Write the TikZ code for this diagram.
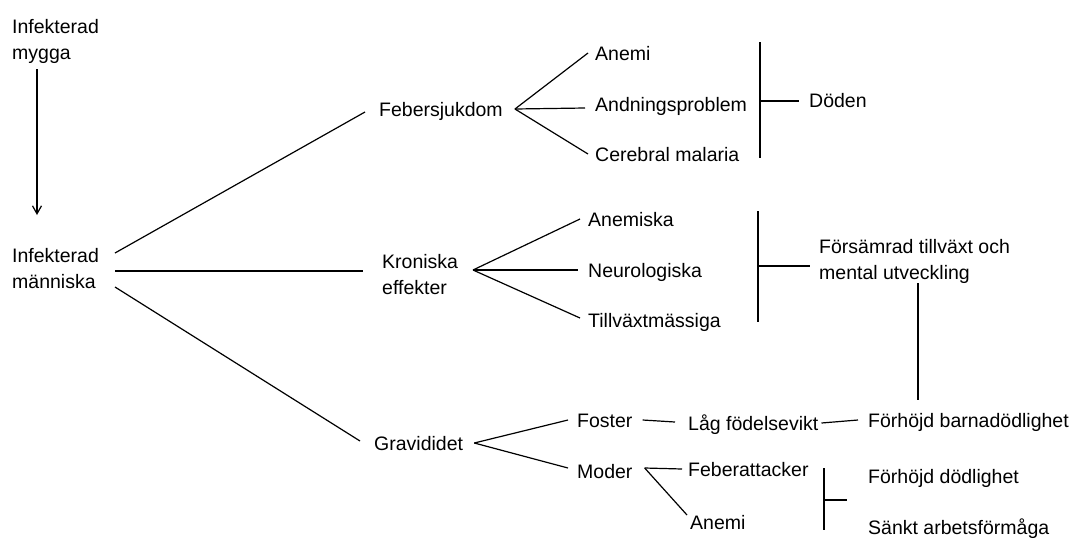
\documentclass[tikz,border=0pt]{standalone}
\usepackage{fontspec}
\setmainfont{Liberation Sans}
\usetikzlibrary{arrows.meta,calc}
\newcommand{\fsz}{\fontsize{19.5}{25.5}\selectfont}
\begin{document}
\begin{tikzpicture}[x=1pt,y=-1pt,
  txt/.style={font=\fsz, inner sep=0pt, text height=14pt, text depth=0pt, anchor=west},
  mtxt/.style={font=\fsz, inner sep=0pt, align=left, anchor=base west},
  ln/.style={line width=1.2pt, black},
  arr/.style={ln, -{Straight Barb[length=8pt,width=9pt,line width=1.2pt]}}]
\useasboundingbox (0,0) rectangle (1077,539);
\fill[white] (0,0) rectangle (1077,539);
% texts (multi-line nodes anchored at the baseline of their last line)
\node[mtxt] (myg) at (12,59) {Infekterad\\mygga};
\node[mtxt] (inf) at (12,288) {Infekterad\\människa};
\node[txt] (feber) at (379,109) {Febersjukdom};
\node[txt] (anemiA) at (595,53) {Anemi};
\node[txt] (andn) at (595,104) {Andningsproblem};
\node[txt] (cereb) at (595,154) {Cerebral malaria};
\node[txt] (doden) at (809,100) {Döden};
\node[mtxt] (kron) at (382,294) {Kroniska\\effekter};
\node[txt] (anemiska) at (588,219) {Anemiska};
\node[txt] (neuro) at (588,270) {Neurologiska};
\node[txt] (tillv) at (588,320) {Tillväxtmässiga};
\node[mtxt] (fors) at (819,279) {Försämrad tillväxt och\\mental utveckling};
\node[txt] (grav) at (374,443) {Gravididet};
\node[txt] (foster) at (577,420) {Foster};
\node[txt] (moder) at (577,471) {Moder};
\node[txt] (lag) at (688,423) {Låg födelsevikt};
\node[txt] (fbarn) at (868,420) {Förhöjd barnadödlighet};
\node[txt] (febatt) at (688,469) {Feberattacker};
\node[txt] (anemiB) at (690,522) {Anemi};
\node[txt] (fdod) at (868,476) {Förhöjd dödlighet};
\node[txt] (sankt) at (868,527) {Sänkt arbetsförmåga};
% arrow mosquito -> human
\coordinate (a1) at (37,69);
\coordinate (a2) at (37,215);
\draw[arr] (a1) -- (a2);
% from infected human
\coordinate (i1) at (115,253);
\coordinate (i2) at (115,271);
\coordinate (i3) at (115,287);
\coordinate (kL) at (363,271);
\draw[ln] (i1) -- ([shift={(-14,3)}]feber.west);
\draw[ln] (i2) -- (kL);
\draw[ln] (i3) -- ([shift={(-14,-2)}]grav.west);
% Febersjukdom fan
\coordinate (fA) at ([xshift=12pt]feber.east);
\draw[ln] (fA) -- ([xshift=-7pt]anemiA.west);
\draw[ln] (fA) -- ([shift={(-10,4)}]andn.west);
\draw[ln] (fA) -- ([xshift=-7pt]cereb.west);
\coordinate (b1t) at (760,42);
\coordinate (b1b) at (760,158);
\coordinate (b1m) at (760,101);
\draw[ln] (b1t) -- (b1b);
\draw[ln] (b1m) -- ([shift={(-10,1)}]doden.west);
% Kroniska fan
\coordinate (kA) at (473,270);
\draw[ln] (kA) -- ([xshift=-8pt]anemiska.west);
\draw[ln] (kA) -- ([xshift=-10pt]neuro.west);
\draw[ln] (kA) -- ([shift={(-8,-2)}]tillv.west);
\coordinate (b2t) at (758,211);
\coordinate (b2b) at (758,322);
\coordinate (b2m) at (758,266);
\coordinate (fL) at (810,266);
\draw[ln] (b2t) -- (b2b);
\draw[ln] (b2m) -- (fL);
\coordinate (v1) at (918,283);
\coordinate (v2) at (918,400);
\draw[ln] (v1) -- (v2);
% Graviditet
\coordinate (gA) at ([xshift=11pt]grav.east);
\draw[ln] (gA) -- ([xshift=-9pt]foster.west);
\draw[ln] (gA) -- ([shift={(-9,-3)}]moder.west);
\draw[ln] ([xshift=10pt]foster.east) -- ([shift={(-13,-1)}]lag.west);
\draw[ln] ([xshift=3pt]lag.east) -- ([xshift=-10pt]fbarn.west);
\coordinate (mA) at ([shift={(12,-3)}]moder.east);
\draw[ln] (mA) -- ([xshift=-6pt]febatt.west);
\draw[ln] (mA) -- ([shift={(-3,-7)}]anemiB.west);
\coordinate (b3t) at (824,468);
\coordinate (b3b) at (824,530);
\coordinate (b3m) at (824,500);
\coordinate (b3e) at (847,500);
\draw[ln] (b3t) -- (b3b);
\draw[ln] (b3m) -- (b3e);
\end{tikzpicture}
\end{document}
